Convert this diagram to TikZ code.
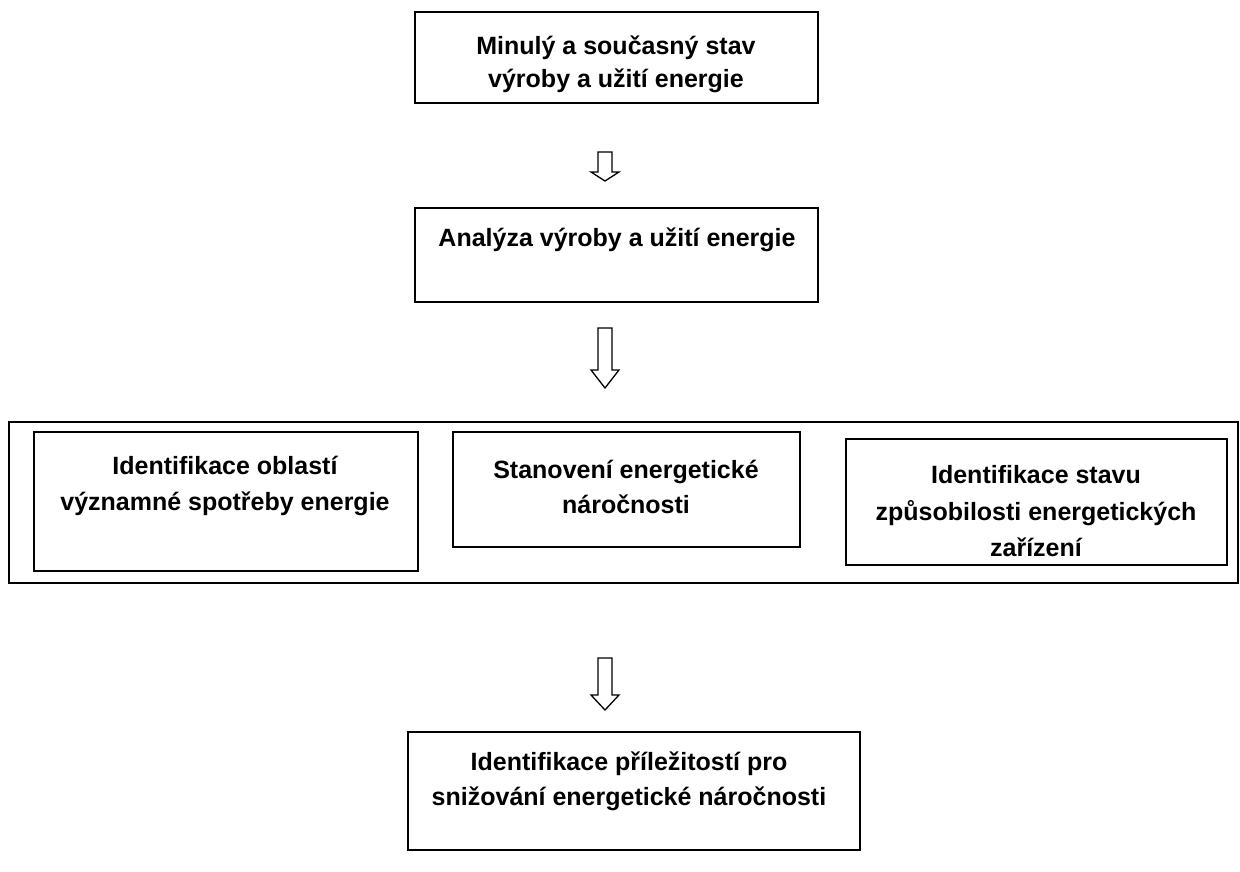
\documentclass[tikz,border=0pt]{standalone}
\usepackage{fontspec}
\setmainfont{Liberation Sans}
\begin{document}
\begin{tikzpicture}[x=1pt,y=-1pt,
  box/.style={draw,line width=1.6pt},
  txt/.style={align=center,font=\bfseries\fontsize{25}{35}\selectfont,inner sep=0pt},
  blockarrow/.style={draw,line width=1.3pt,fill=white,line join=miter}]
\useasboundingbox (0,0) rectangle (1240,872);
% boxes
\draw[box] (415,12) rectangle (818,103);
\node[txt,font=\bfseries\fontsize{25}{33}\selectfont] (t1) at (616,64) {Minulý a současný stav\\výroby a užití energie};
\draw[box] (415,208) rectangle (818,302);
\node[txt] (t2) at (617,240) {Analýza výroby a užití energie};
\draw[box] (9,422) rectangle (1238,583);
\draw[box] (34,432) rectangle (418,571);
\node[txt,font=\bfseries\fontsize{25}{36}\selectfont] (t3) at (225,486) {Identifikace oblastí\\významné spotřeby energie};
\draw[box] (453,432) rectangle (800,547);
\node[txt] (t4) at (626,487) {Stanovení energetické\\náročnosti};
\draw[box] (846,439) rectangle (1227,565);
\node[txt,font=\bfseries\fontsize{25}{36.5}\selectfont] (t5) at (1036,511.5) {Identifikace stavu\\způsobilosti energetických\\zařízení};
\draw[box] (408,732) rectangle (860,850);
\node[txt] (t6) at (629,781) {Identifikace příležitostí pro\\snižování energetické náročnosti};
% block arrows
\draw[blockarrow] (598,152) -- (612,152) -- (612,172) -- (619,172) -- (605,181) -- (591,172) -- (598,172) -- cycle;
\draw[blockarrow] (598,328) -- (612,328) -- (612,370) -- (619,370) -- (605,388) -- (591,370) -- (598,370) -- cycle;
\draw[blockarrow] (598,658) -- (612,658) -- (612,695) -- (619,695) -- (605,710) -- (591,695) -- (598,695) -- cycle;
\end{tikzpicture}
\end{document}
